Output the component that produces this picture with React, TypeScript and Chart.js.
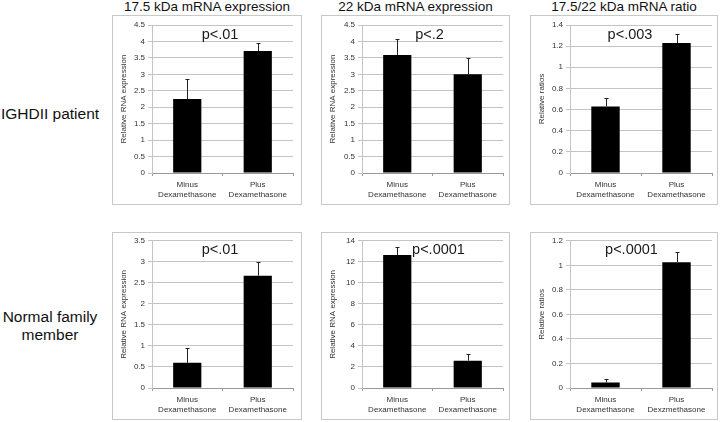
import React, { useEffect, useRef } from "react";
import { Chart, registerables } from "chart.js";

Chart.register(...registerables);

// ---------- data ----------
const CATEGORIES = [["Minus", "Dexamethasone"], ["Plus", "Dexamethasone"]];
const CATEGORIES_LAST = [["Minus", "Dexamethasone"], ["Plus", "Dexzmethasone"]];

const COLUMN_TITLES = ["17.5 kDa mRNA expression", "22 kDa mRNA expression", "17.5/22 kDa mRNA ratio"];
const ROW_LABELS = [["IGHDII patient"], ["Normal family", "member"]];

const Y_TITLE_EXPR = "Relative RNA expression";
const Y_TITLE_RATIO = "Relative ratios";

// IGHDII patient
const patient17Values = [2.25, 3.71];
const patient17Errors = [0.6, 0.23];
const patient22Values = [3.59, 3.0];
const patient22Errors = [0.48, 0.5];
const patientRatioValues = [0.63, 1.23];
const patientRatioErrors = [0.08, 0.085];

// Normal family member
const normal17Values = [0.6, 2.67];
const normal17Errors = [0.34, 0.33];
const normal22Values = [12.65, 2.6];
const normal22Errors = [0.72, 0.6];
const normalRatioValues = [0.045, 1.025];
const normalRatioErrors = [0.028, 0.085];

const P_LABELS = ["p<.01", "p<.2", "p<.003", "p<.01", "p<.0001", "p<.0001"];
const Y_MAX = [4.5, 4.5, 1.4, 3.5, 14, 1.2];
const Y_STEP = [0.5, 0.5, 0.2, 0.5, 2, 0.2];

// ---------- layout ----------
const COLS = [
  { x: 112, w: 190, plotL: 40, plotR: 9 },
  { x: 321, w: 189, plotL: 41, plotR: 7 },
  { x: 530, w: 188, plotL: 40, plotR: 6 },
];
const ROWS = [
  { y: 15, h: 190, top: 10 },
  { y: 232, h: 188, top: 8 },
];
const PLOT_H = 148;
const P_OFFSETS = [-2.5, -3, -11, -2.5, 6, -9.5];

const FONT = "'Liberation Sans', Arial, Helvetica, sans-serif";

const errorBarPlugin = {
  id: "errorBars",
  afterDatasetsDraw(chart: any, _args: any, opts: any) {
    const { ctx } = chart;
    const x = chart.scales.x;
    const y = chart.scales.y;
    const data = chart.data.datasets[0].data as number[];
    const errs = opts.errors as number[];
    ctx.save();
    ctx.strokeStyle = "#222";
    ctx.lineWidth = 1;
    data.forEach((v, i) => {
      const px = Math.round(x.getPixelForValue(i)) + 0.5;
      const y0 = y.getPixelForValue(v);
      const y1 = Math.round(y.getPixelForValue(v + errs[i])) + 0.5;
      ctx.beginPath();
      ctx.moveTo(px, y0);
      ctx.lineTo(px, y1);
      ctx.moveTo(px - 2, y1);
      ctx.lineTo(px + 2, y1);
      ctx.stroke();
    });
    ctx.restore();
  },
};

const pLabelPlugin = {
  id: "pLabel",
  afterDraw(chart: any, _args: any, opts: any) {
    const { ctx, chartArea } = chart;
    ctx.save();
    ctx.font = `14.5px ${FONT}`;
    ctx.fillStyle = "#1a1a1a";
    ctx.textAlign = "center";
    ctx.textBaseline = "alphabetic";
    const cx = (chartArea.left + chartArea.right) / 2 + opts.offset;
    ctx.fillText(opts.text, cx, chartArea.top + 13.5);
    ctx.restore();
  },
};

type PanelProps = {
  col: number;
  row: number;
  values: number[];
  errors: number[];
  labels: string[][];
  yTitle: string;
  idx: number;
};

function Panel({ col, row, values, errors, labels, yTitle, idx }: PanelProps) {
  const ref = useRef<HTMLCanvasElement | null>(null);
  const c = COLS[col];
  const r = ROWS[row];
  const cw = c.w - 2;
  const ch = r.h - 2;
  const topPad = r.top - 1;
  const xAxisH = ch - topPad - PLOT_H;

  useEffect(() => {
    if (!ref.current) return;
    const chart = new Chart(ref.current, {
      type: "bar",
      data: {
        labels: labels as any,
        datasets: [
          {
            data: values,
            backgroundColor: "#000",
            borderWidth: 0,
            barPercentage: 0.4,
            categoryPercentage: 1,
          },
        ],
      },
      plugins: [errorBarPlugin as any, pLabelPlugin as any],
      options: {
        animation: false,
        responsive: false,
        maintainAspectRatio: false,
        devicePixelRatio: 1,
        layout: { padding: { left: 0, right: c.plotR - 1, top: topPad, bottom: 0 } },
        plugins: {
          legend: { display: false },
          tooltip: { enabled: false },
          errorBars: { errors },
          pLabel: { text: P_LABELS[idx], offset: P_OFFSETS[idx] },
        } as any,
        scales: {
          x: {
            type: "category",
            ticks: {
              font: { family: FONT, size: 8 },
              color: "#333",
              padding: 4,
              maxRotation: 0,
              autoSkip: false,
            },
            grid: {
              offset: true,
              drawOnChartArea: false,
              tickLength: 3,
              color: "#999",
            },
            border: { color: "#999" },
            afterFit: (s: any) => {
              s.height = xAxisH;
            },
          },
          y: {
            min: 0,
            max: Y_MAX[idx],
            ticks: {
              stepSize: Y_STEP[idx],
              font: { family: FONT, size: 8 },
              color: "#333",
              padding: 3,
              callback: (v: any) => String(Math.round(Number(v) * 100) / 100),
            },
            grid: { color: "#c4c4c4", tickLength: 4 },
            border: { color: "#c4c4c4" },
            title: {
              display: true,
              text: yTitle,
              font: { family: FONT, size: 8 },
              color: "#333",
              padding: { top: 6, bottom: 0 },
            },
            afterFit: (s: any) => {
              s.width = c.plotL - 1;
            },
          },
        },
      },
    });
    return () => chart.destroy();
  }, []);

  return (
    <div
      style={{
        position: "absolute",
        left: c.x,
        top: r.y,
        width: c.w,
        height: r.h,
        boxSizing: "border-box",
        border: "1px solid #c8c8c8",
      }}
    >
      <canvas ref={ref} width={cw} height={ch} style={{ display: "block", width: cw, height: ch }} />
    </div>
  );
}

export default function App() {
  const panels = [
    { values: patient17Values, errors: patient17Errors, yTitle: Y_TITLE_EXPR, labels: CATEGORIES },
    { values: patient22Values, errors: patient22Errors, yTitle: Y_TITLE_EXPR, labels: CATEGORIES },
    { values: patientRatioValues, errors: patientRatioErrors, yTitle: Y_TITLE_RATIO, labels: CATEGORIES },
    { values: normal17Values, errors: normal17Errors, yTitle: Y_TITLE_EXPR, labels: CATEGORIES },
    { values: normal22Values, errors: normal22Errors, yTitle: Y_TITLE_EXPR, labels: CATEGORIES },
    { values: normalRatioValues, errors: normalRatioErrors, yTitle: Y_TITLE_RATIO, labels: CATEGORIES_LAST },
  ];
  const rowLabelTops = [105, 308];

  return (
    <div
      style={{
        position: "absolute",
        left: 0,
        top: 0,
        width: 720,
        height: 422,
        background: "#fff",
        fontFamily: FONT,
        color: "#111",
        overflow: "hidden",
      }}
    >
      {COLUMN_TITLES.map((t, i) => (
        <div
          key={t}
          style={{
            position: "absolute",
            left: COLS[i].x - 20,
            width: COLS[i].w + 40,
            top: -1,
            lineHeight: "16px",
            fontSize: 13.5,
            textAlign: "center",
            whiteSpace: "nowrap",
          }}
        >
          {t}
        </div>
      ))}
      {ROW_LABELS.map((lines, i) => (
        <div
          key={i}
          style={{
            position: "absolute",
            left: 0,
            width: 100,
            top: rowLabelTops[i],
            lineHeight: "18px",
            fontSize: 15.5,
            textAlign: "center",
            whiteSpace: "nowrap",
          }}
        >
          {lines.map((l) => (
            <div key={l}>{l}</div>
          ))}
        </div>
      ))}
      {panels.map((p, i) => (
        <Panel
          key={i}
          idx={i}
          col={i % 3}
          row={Math.floor(i / 3)}
          values={p.values}
          errors={p.errors}
          labels={p.labels}
          yTitle={p.yTitle}
        />
      ))}
    </div>
  );
}
